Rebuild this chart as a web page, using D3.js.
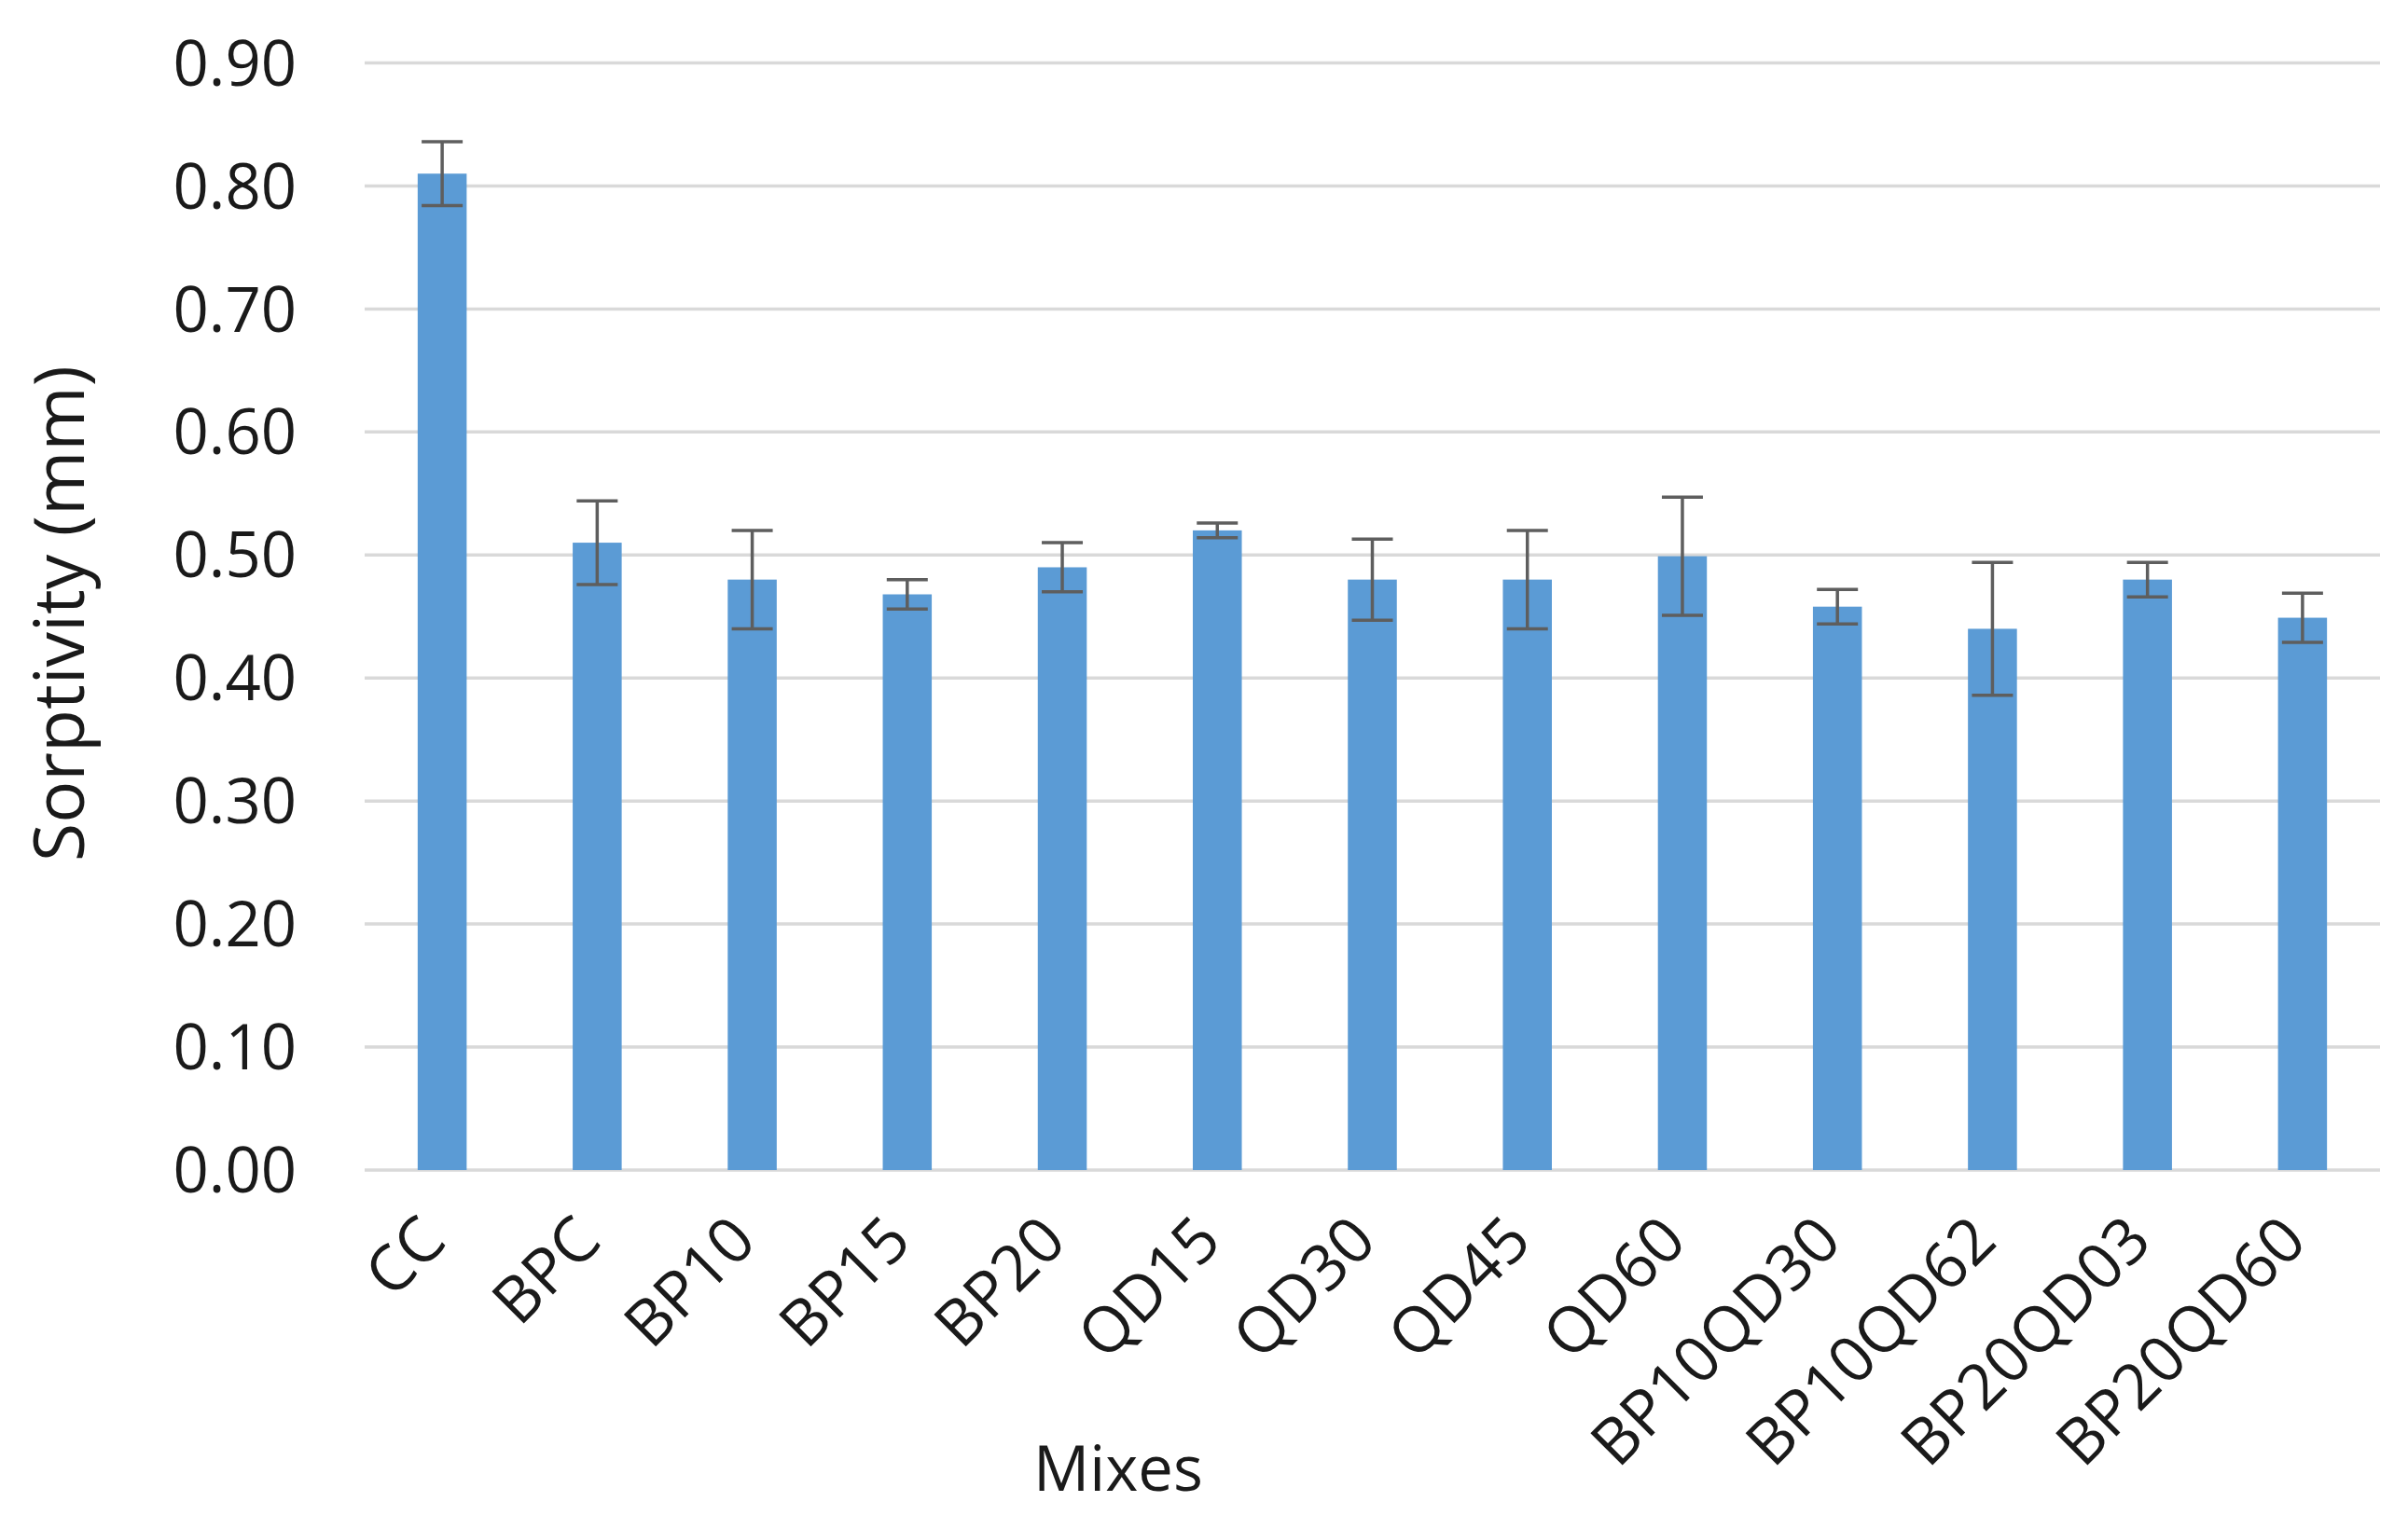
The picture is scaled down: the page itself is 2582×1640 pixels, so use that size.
<!DOCTYPE html>
<html>
<head>
<meta charset="utf-8">
<script src="https://cdn.jsdelivr.net/npm/d3@7"></script>
<style>
  html, body { margin: 0; padding: 0; background: #fff; }
  svg { display: block; }
  text { font-family: "Open Sans", "Noto Sans", sans-serif; fill: #1a1a1a; }
</style>
</head>
<body>
<svg id="chart" width="2582" height="1640"></svg>
<script>
const categories = ["CC","BPC","BP10","BP15","BP20","QD15","QD30","QD45","QD60","BP10QD30","BP10QD62","BP20QD03","BP20QD60"];
const values = [0.81, 0.51, 0.48, 0.468, 0.49, 0.52, 0.48, 0.48, 0.499, 0.458, 0.44, 0.48, 0.449];
const errors = [0.026, 0.034, 0.04, 0.012, 0.02, 0.006, 0.033, 0.04, 0.048, 0.014, 0.054, 0.014, 0.02];
const yTicks = [0, 0.1, 0.2, 0.3, 0.4, 0.5, 0.6, 0.7, 0.8, 0.9];
const yTitle = "Sorptivity (mm)";
const xTitle = "Mixes";

const svg = d3.select("#chart");
const plotLeft = 391, plotRight = 2552, plotTop = 67.5, plotBottom = 1255;

const x = d3.scaleBand().domain(categories).range([plotLeft, plotRight])
  .paddingInner(0.684).paddingOuter(0.342);
const y = d3.scaleLinear().domain([0, 0.9]).range([plotBottom, plotTop]);

// gridlines
svg.append("g").selectAll("line").data(yTicks).join("line")
  .attr("x1", plotLeft).attr("x2", plotRight)
  .attr("y1", d => y(d)).attr("y2", d => y(d))
  .attr("stroke", "#d9d9d9").attr("stroke-width", 3.5);

// y tick labels
svg.append("g").selectAll("text").data(yTicks).join("text")
  .attr("x", 318).attr("y", d => y(d)).attr("dy", "0.36em")
  .attr("text-anchor", "end").attr("font-size", 67)
  .text(d => d3.format(".2f")(d));

// bars
const data = categories.map((c, i) => ({c, v: values[i], e: errors[i]}));
svg.append("g").selectAll("rect").data(data).join("rect")
  .attr("x", d => x(d.c)).attr("width", x.bandwidth())
  .attr("y", d => y(d.v)).attr("height", d => y(0) - y(d.v))
  .attr("fill", "#5b9bd5");

// error bars
const eg = svg.append("g").attr("stroke", "#5e5e5e").attr("stroke-width", 3.5);
const capW = 44;
data.forEach(d => {
  const cx = x(d.c) + x.bandwidth() / 2;
  eg.append("line").attr("x1", cx).attr("x2", cx)
    .attr("y1", y(d.v + d.e)).attr("y2", y(d.v - d.e));
  eg.append("line").attr("x1", cx - capW/2).attr("x2", cx + capW/2)
    .attr("y1", y(d.v + d.e)).attr("y2", y(d.v + d.e));
  eg.append("line").attr("x1", cx - capW/2).attr("x2", cx + capW/2)
    .attr("y1", y(d.v - d.e)).attr("y2", y(d.v - d.e));
});

// category labels
svg.append("g").selectAll("text").data(categories).join("text")
  .attr("transform", d => `translate(${x(d) + x.bandwidth()/2 + 7},1334) rotate(-45)`)
  .attr("text-anchor", "end").attr("font-size", 68)
  .text(d => d);

// axis titles
svg.append("text")
  .attr("transform", `translate(90,658) rotate(-90)`)
  .attr("text-anchor", "middle").attr("font-size", 75)
  .text(yTitle);

svg.append("text")
  .attr("x", 1199).attr("y", 1599)
  .attr("text-anchor", "middle").attr("font-size", 67)
  .text(xTitle);
</script>
</body>
</html>
